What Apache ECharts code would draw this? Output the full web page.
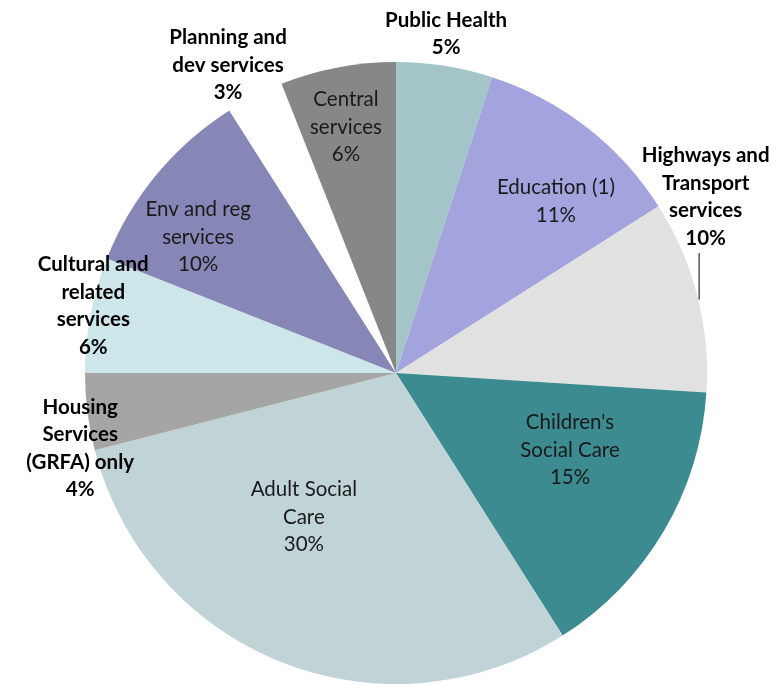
<!DOCTYPE html>
<html>
<head>
<meta charset="utf-8">
<script src="https://cdn.jsdelivr.net/npm/echarts@6/dist/echarts.min.js"></script>
<style>
html,body{margin:0;padding:0;background:#fff;}
#chart{width:779px;height:685px;}
</style>
</head>
<body>
<div id="chart"></div>
<script>
// ---- data ----
var categories = [
  "Public Health",
  "Education (1)",
  "Highways and\nTransport\nservices",
  "Children's\nSocial Care",
  "Adult Social\nCare",
  "Housing\nServices\n(GRFA) only",
  "Cultural and\nrelated\nservices",
  "Env and reg\nservices",
  "Planning and\ndev services",
  "Central\nservices"
];
var values = [5, 11, 10, 15, 30, 4, 6, 10, 3, 6];

// ---- styling ----
var colors = ["#A3C5C8", "#A3A3DE", "#E1E1E1", "#3C8B91", "#C0D3D6",
              "#A5A5A5", "#CDE6EA", "#8787B7", "#FFFFFF", "#878787"];
var boldLabel = [true, false, true, false, false, true, true, false, true, false];
// label placement: [radius factor, angle in degrees clockwise from 12 o'clock]
var labelPlace = [[1.103, 8.4], [0.754, 43.0], [1.145, 60.4], [0.612, 113.9], [0.550, 212.6],
                  [1.044, 256.6], [0.997, 282.5], [0.772, 304.5], [1.128, 331.4], [0.807, 348.5]];
var leaderIndex = 2;

var CX = 396, CY = 373, R = 311;
var FS = 20.5, LH = 27.5;

var chart = echarts.init(document.getElementById('chart'), null, {renderer: 'canvas'});

var total = values.reduce(function(a, b){ return a + b; }, 0);
var data = categories.map(function(c, i){
  return {
    name: c,
    value: values[i],
    itemStyle: {color: colors[i]},
    label: {fontWeight: boldLabel[i] ? 'bold' : 'normal', color: boldLabel[i] ? '#000' : '#1a1a1a'}
  };
});

function labelPos(i){
  var k = labelPlace[i][0], a = labelPlace[i][1] * Math.PI / 180;
  return [CX + R * k * Math.sin(a), CY - R * k * Math.cos(a)];
}

// leader line for the highways label: from slice edge straight up to the label
var lp = labelPos(leaderIndex);
var nLines = (categories[leaderIndex].split('\n').length + 1);
var lx = lp[0] - 7;
var labelBottom = lp[1] + nLines * LH / 2 + 1;
var cum = 0;
for (var j = 0; j < leaderIndex; j++) cum += values[j];
var mid = (cum + values[leaderIndex] / 2) / total * 2 * Math.PI;
var edgeY = CY - R * Math.cos(mid) + 4;

chart.setOption({
  animation: false,
  backgroundColor: '#fff',
  series: [{
    type: 'pie',
    center: [CX, CY],
    radius: [0, R],
    startAngle: 90,
    clockwise: true,
    data: data,
    itemStyle: {borderWidth: 0},
    emphasis: {disabled: true},
    label: {
      show: true,
      position: 'inside',
      formatter: function(p){ return p.name + '\n' + p.value + '%'; },
      fontFamily: 'Lato',
      fontSize: FS,
      lineHeight: LH,
      align: 'center',
      verticalAlign: 'middle'
    },
    labelLine: {show: false},
    labelLayout: function(params){
      var p = labelPos(params.dataIndex);
      return {x: p[0], y: p[1], align: 'center', verticalAlign: 'middle'};
    }
  }],
  graphic: [{
    type: 'line',
    z: 100,
    shape: {x1: lx + 0.5, y1: labelBottom, x2: lx + 0.5, y2: edgeY},
    style: {stroke: '#000', lineWidth: 1}
  }]
});
</script>
</body>
</html>
